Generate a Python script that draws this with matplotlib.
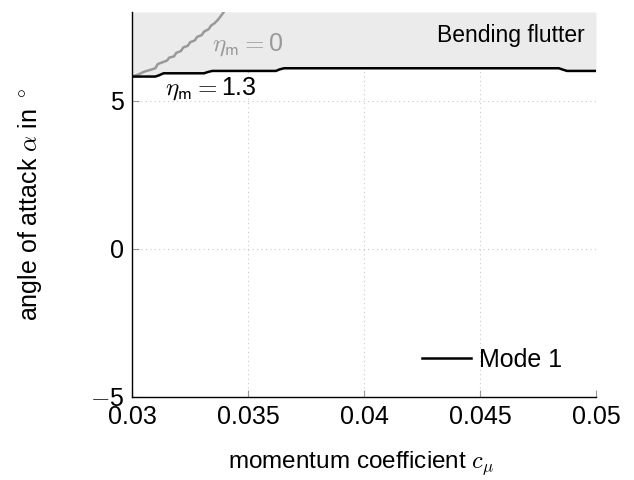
import numpy as np
import matplotlib
matplotlib.use("Agg")
import matplotlib.pyplot as plt

plt.rcParams['font.family'] = ['Liberation Sans', 'DejaVu Sans']
plt.rcParams['mathtext.fontset'] = 'cm'

# Stability boundary, mode 1, eta_m = 1.3 (stepped)
cmu_b13 = [0.0300, 0.0310, 0.03115, 0.03135, 0.0331, 0.03325, 0.03345, 0.0362, 0.03635, 0.03655,
           0.0484, 0.04855, 0.04875, 0.0500]
alpha_b13 = [5.82, 5.82, 5.86, 5.93, 5.93, 5.97, 6.01, 6.01, 6.06, 6.10,
             6.10, 6.06, 6.01, 6.01]

# Stability boundary, eta_m = 0 (staircase)
cmu_b0 = [0.0300, 0.0303, 0.0305, 0.0308, 0.0310, 0.0311, 0.0313, 0.0315, 0.0316, 0.0318,
          0.0319, 0.0321, 0.0322, 0.0324, 0.0325, 0.0327, 0.0328, 0.0330, 0.0331, 0.0333,
          0.0334, 0.03355, 0.0337, 0.0338, 0.03395]
alpha_b0 = [5.82, 5.90, 5.98, 6.05, 6.10, 6.24, 6.30, 6.36, 6.46, 6.50,
            6.62, 6.68, 6.80, 6.86, 6.98, 7.04, 7.16, 7.22, 7.34, 7.42,
            7.54, 7.62, 7.74, 7.84, 8.00]

xticks = [0.03, 0.035, 0.04, 0.045, 0.05]
xticklabels = ["0.03", "0.035", "0.04", "0.045", "0.05"]
yticks = [-5, 0, 5]
yticklabels = ["$-$5", "0", "5"]

fig = plt.figure(figsize=(6.34, 4.8), dpi=100)
ax = fig.add_axes([0.2085, 0.173, 0.7315, 0.802])

ax.set_xlim(0.03, 0.05)
ax.set_ylim(-5, 8)

ax.grid(True, color="#c8c8c8", linestyle=(0, (1, 3)), linewidth=0.8, zorder=0)
ax.set_axisbelow(True)

# shaded unstable region above the boundary
ax.fill_between(cmu_b13, alpha_b13, 8, color="#ebebeb", zorder=1, linewidth=0)

ax.plot(cmu_b0, alpha_b0, color="#999999", linewidth=1.8, zorder=2)
ax.plot(cmu_b13, alpha_b13, color="black", linewidth=1.8, zorder=3, label="Mode 1")

ax.text(0.04953, 7.2, "Bending flutter", fontsize=16.5, ha="right", va="center", zorder=4)
ax.text(0.03345, 6.9, r"$\eta_{\mathsf{m}} = $0", fontsize=18, color="#999999",
        ha="left", va="center", zorder=4)
ax.text(0.03142, 5.4, r"$\eta_{\mathsf{m}} = $1.3", fontsize=18, color="black",
        ha="left", va="center", zorder=4)

ax.set_xticks(xticks)
ax.set_xticklabels(xticklabels)
ax.set_yticks(yticks)
ax.set_yticklabels(yticklabels)
ax.tick_params(direction="in", length=5, color="#999999", labelsize=18, pad=6)

ax.spines["top"].set_visible(False)
ax.spines["right"].set_visible(False)
ax.spines["left"].set_linewidth(1.0)
ax.spines["bottom"].set_linewidth(1.0)

ax.set_xlabel(r"momentum coefficient $c_\mu$", fontsize=17.5)
ax.set_ylabel(r"angle of attack $\alpha$ in $^\circ$", fontsize=18)
ax.xaxis.set_label_coords(0.494, -0.135)
ax.yaxis.set_label_coords(-0.19, 0.5)

leg = ax.legend(loc="lower right", frameon=False, fontsize=18, handlelength=1.95,
                handletextpad=0.35, borderaxespad=0.6, bbox_to_anchor=(0.982, 0.0))

fig.savefig("out.png", dpi=100)
